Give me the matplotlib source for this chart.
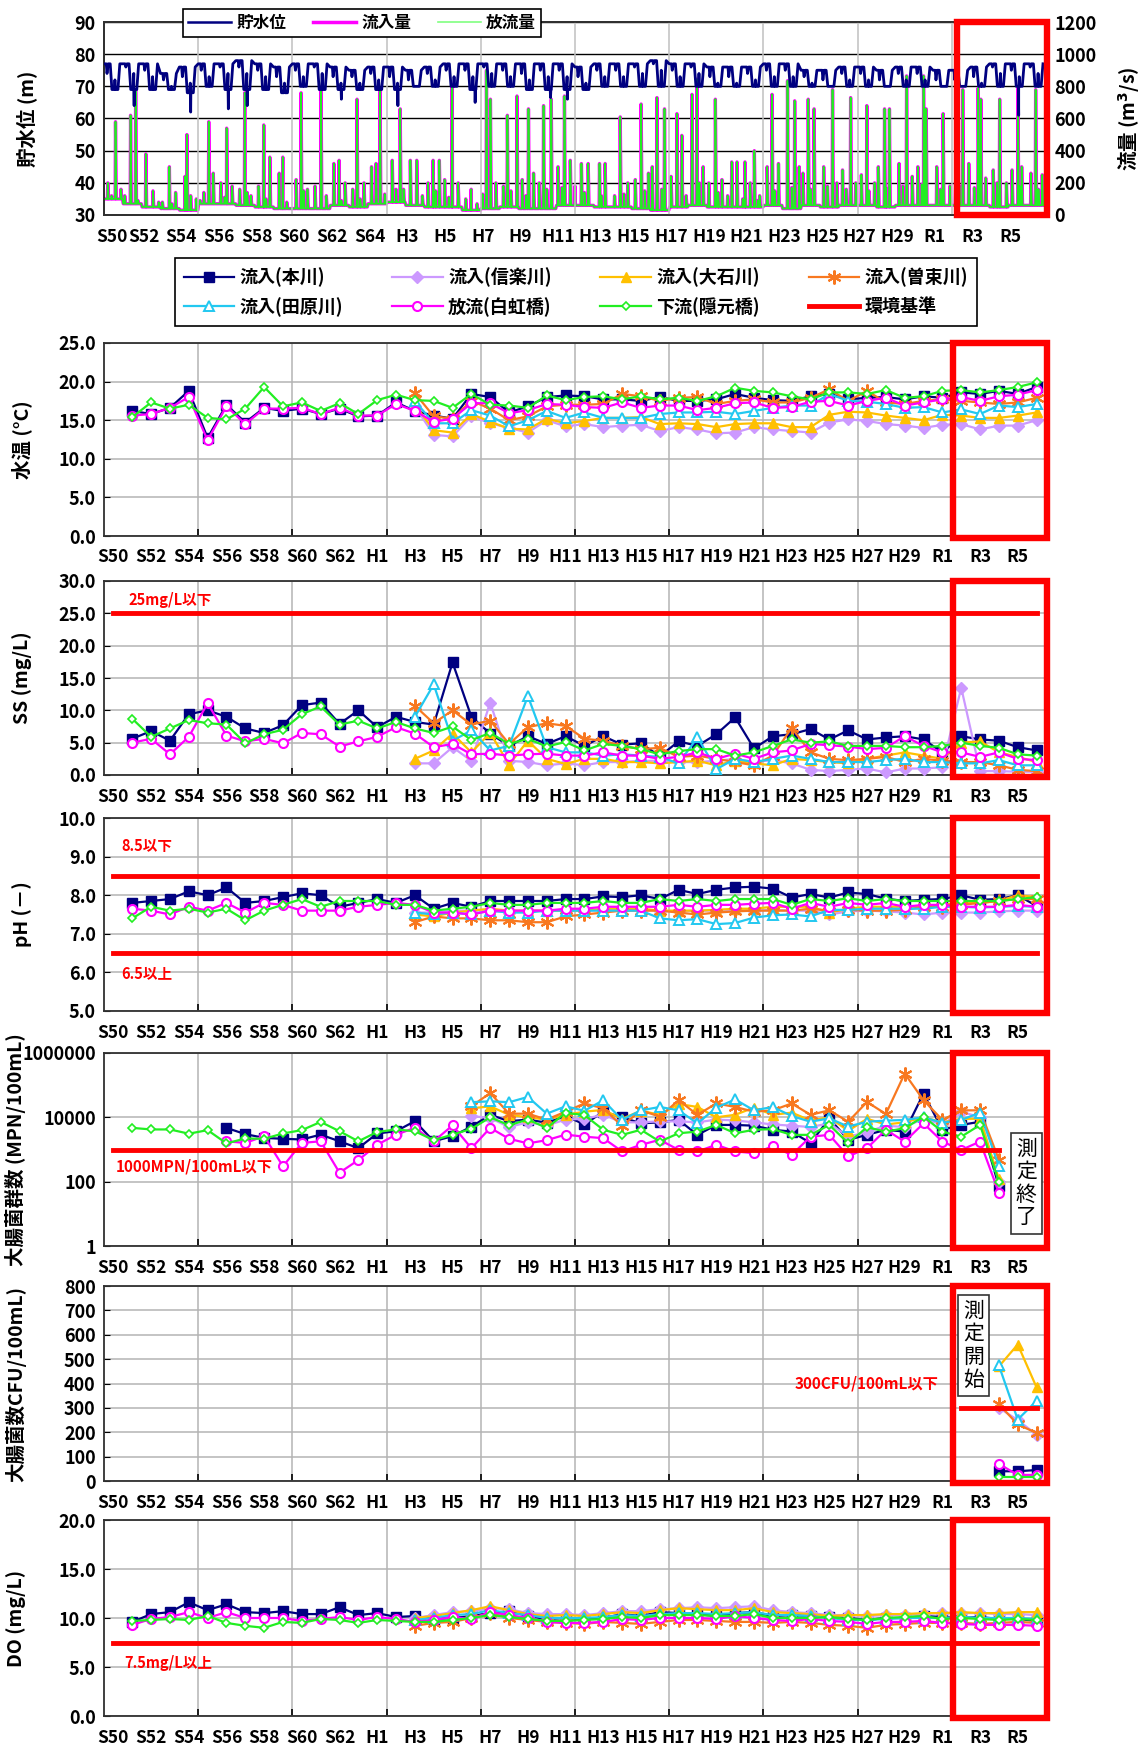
import numpy as np
import matplotlib
matplotlib.use("Agg")
import matplotlib.pyplot as plt
import matplotlib.transforms as mtrans
from matplotlib.patches import Rectangle
from matplotlib.lines import Line2D
from matplotlib.ticker import NullLocator

plt.rcParams['font.family'] = ['Noto Sans CJK JP', 'DejaVu Sans']
plt.rcParams['axes.unicode_minus'] = False
plt.rcParams['font.weight'] = 'bold'
plt.rcParams['axes.labelweight'] = 'bold'

# ---------------- axis categories ----------------
YEARS = list(range(1975, 2025))
TICK_YEARS = list(range(1975, 2024, 2))
TOP_LABELS = ['S50', 'S52', 'S54', 'S56', 'S58', 'S60', 'S62', 'S64', 'H3', 'H5', 'H7', 'H9', 'H11',
              'H13', 'H15', 'H17', 'H19', 'H21', 'H23', 'H25', 'H27', 'H29', 'R1', 'R3', 'R5']
LOW_LABELS = ['S50', 'S52', 'S54', 'S56', 'S58', 'S60', 'S62', 'H1', 'H3', 'H5', 'H7', 'H9', 'H11',
              'H13', 'H15', 'H17', 'H19', 'H21', 'H23', 'H25', 'H27', 'H29', 'R1', 'R3', 'R5']

# ---------------- top panel: reservoir level & flows ----------------
wl_high = [77, 77, 77, 74, 76, 77, 77, 78, 77, 76, 77, 77, 76, 75, 76, 76, 75, 76, 77, 77,
           77, 77, 77, 77, 77, 76, 77, 77, 77, 78, 77, 77, 76, 76, 76, 77, 77, 75, 75, 76,
           76, 75, 76, 76, 75, 75, 76, 77, 77, 77]
wl_low = [69, 69, 69, 69, 68, 70, 69, 69, 69, 68, 70, 69, 69, 69, 69, 69, 70, 70, 70, 69,
          70, 70, 69, 69, 69, 69, 70, 70, 70, 70, 70, 70, 70, 70, 70, 70, 70, 70, 70, 70,
          70, 70, 70, 70, 70, 70, 70, 70, 70, 70]
wl_spring = [74, 76, 75, 72, 73, 75, 76, 76, 75, 73, 75, 76, 73, 73, 74, 73, 72, 74, 75, 75,
             76, 75, 74, 75, 75, 73, 75, 75, 76, 77, 75, 76, 73, 73, 74, 75, 75, 73, 72, 74,
             74, 72, 74, 74, 72, 72, 73, 76, 75, 76]
wl_dip_t = [1976.6, 1979.6, 1981.6, 1982.6, 1987.6, 1990.6, 1994.7, 1998.7, 1999.6, 2023.55]
wl_dip_v = [64, 62, 63, 64, 66, 64, 65, 66.5, 66, 61]

base_flow = [100, 70, 50, 40, 30, 70, 70, 60, 50, 40, 40, 40, 60, 50, 70, 80, 60, 50, 50, 30,
             40, 50, 40, 40, 60, 60, 50, 50, 40, 30, 50, 60, 50, 50, 50, 60, 40, 60, 50, 60,
             60, 50, 60, 60, 60, 60, 60, 50, 60, 60]
peak_t = [1975.61, 1976.41, 1976.68, 1977.22, 1978.47, 1979.40, 1980.56, 1981.51, 1982.47, 1983.48,
          1984.49, 1985.46, 1986.52, 1987.48, 1988.43, 1989.44, 1989.65, 1990.72, 1991.26, 1992.47,
          1993.08, 1993.48, 1994.49, 1995.30, 1995.51, 1996.41, 1996.92, 1997.53, 1998.33, 1998.74,
          1999.44, 1999.75, 2000.34, 2001.30, 2002.40, 2003.51, 2004.35, 2004.75, 2005.41, 2005.67,
          2006.21, 2006.47, 2007.45, 2008.32, 2009.02, 2009.52, 2010.46, 2011.28, 2011.66, 2012.38,
          2012.69, 2013.67, 2014.63, 2015.49, 2016.43, 2016.69, 2017.60, 2018.50, 2018.64, 2019.54,
          2020.58, 2021.40, 2021.54, 2022.54, 2023.51, 2023.71, 2024.45]
peak_in = [580, 620, 780, 380, 300, 500, 580, 540, 760, 560,
           360, 760, 780, 340, 720, 320, 780, 660, 340, 340,
           220, 800, 160, 900, 720, 620, 740, 660, 680, 720,
           740, 340, 320, 320, 610, 690, 730, 660, 630, 495,
           750, 845, 720, 330, 330, 400, 750, 835, 710, 720,
           660, 780, 730, 680, 660, 660, 865, 865, 660, 630,
           780, 790, 720, 720, 790, 300, 780]
sec_t = [1975.2, 1975.9, 1976.1, 1977.6, 1978.1, 1978.8, 1979.3, 1979.9, 1980.3, 1980.8,
         1981.2, 1981.8, 1982.2, 1982.8, 1983.2, 1983.8, 1984.3, 1985.2, 1985.8, 1986.2,
         1987.2, 1987.8, 1988.2, 1988.8, 1989.2, 1990.3, 1990.9, 1991.6, 1992.2, 1992.8,
         1993.8, 1994.2, 1995.8, 1996.2, 1997.2, 1997.8, 1998.1, 1999.1, 2000.0, 2000.7,
         2001.6, 2002.1, 2002.8, 2003.2, 2003.9, 2004.1, 2005.1, 2006.8, 2007.1, 2007.8,
         2008.6, 2009.3, 2009.8, 2010.2, 2010.8, 2011.9, 2012.1, 2013.2, 2013.9, 2014.2,
         2014.9, 2015.2, 2015.9, 2016.1, 2017.2, 2017.9, 2018.2, 2019.2, 2019.9, 2020.2,
         2020.9, 2021.8, 2022.2, 2022.9, 2023.2, 2024.2, 2024.8]
sec_v = [200, 160, 120, 150, 80, 140, 240, 100, 140, 260,
         200, 180, 160, 120, 180, 360, 260, 220, 160, 180,
         320, 200, 160, 200, 300, 340, 160, 340, 200, 340,
         200, 100, 200, 180, 220, 260, 200, 300, 180, 320,
         320, 120, 200, 220, 260, 300, 240, 300, 200, 220,
         330, 200, 120, 300, 320, 300, 260, 300, 200, 280,
         200, 250, 200, 300, 320, 240, 300, 300, 180, 200,
         320, 230, 280, 200, 280, 260, 250]
small_t = [1975.4, 1976.8, 1977.9, 1978.6, 1979.6, 1980.1, 1981.4, 1982.6, 1983.6, 1984.7,
           1985.6, 1986.8, 1987.6, 1988.6, 1989.9, 1990.5, 1991.9, 1992.6, 1993.3, 1994.8,
           1995.1, 1996.6, 1997.4, 1998.5, 1999.3, 2000.5, 2001.4, 2002.6, 2003.7, 2004.6,
           2005.9, 2006.6, 2007.6, 2008.1, 2008.9, 2009.7, 2010.6, 2011.5, 2012.5, 2013.4,
           2014.4, 2015.6, 2016.5, 2017.4, 2018.4, 2019.4, 2020.4, 2021.2, 2022.4, 2023.6, 2024.6]
small_v = [120, 90, 80, 70, 120, 90, 110, 140, 100, 80,
           150, 120, 90, 100, 130, 160, 120, 150, 110, 70,
           130, 150, 120, 160, 170, 140, 120, 130, 150, 160,
           120, 200, 140, 120, 100, 90, 150, 170, 160, 180,
           160, 150, 170, 180, 190, 160, 180, 170, 200, 180, 160]

# ---------------- annual water quality ----------------
# 水温 (°C)
wt_hon = [16.2, 15.8, 16.6, 18.8, 12.7, 17.0, 14.7, 16.6, 16.2, 16.5, 15.8, 16.5, 15.5, 15.6, 17.3, 16.2,
          15.6, 15.2, 18.4, 18.0, 16.0, 16.8, 18.0, 18.2, 18.1, 17.7, 17.7, 17.5, 18.0, 17.5, 17.5, 17.7,
          18.4, 17.9, 17.6, 17.5, 18.1, 18.4, 17.7, 17.9, 18.0, 17.7, 18.1, 17.9, 18.6, 18.4, 18.8, 18.4, 19.3]
wt_hak = [15.6, 15.8, 16.6, 18.0, 12.4, 16.8, 14.5, 16.5, 16.5, 16.6, 15.8, 16.6, 15.6, 15.6, 17.1, 16.2,
          14.8, 15.2, 17.2, 17.2, 15.9, 16.3, 17.1, 17.0, 16.7, 16.6, 17.3, 16.6, 16.9, 16.9, 16.3, 16.6,
          17.2, 17.3, 16.6, 16.7, 17.4, 17.5, 16.9, 17.5, 17.9, 16.9, 17.3, 17.7, 18.0, 17.5, 18.1, 18.3, 18.9]
wt_ing = [15.4, 17.3, 16.5, 17.0, 15.3, 15.1, 16.5, 19.3, 16.8, 17.3, 16.2, 17.2, 15.8, 17.6, 18.3, 17.6,
          17.5, 16.6, 18.4, 17.0, 16.9, 16.6, 18.2, 17.6, 18.0, 18.1, 17.7, 18.1, 17.7, 17.9, 17.5, 18.1,
          19.2, 18.8, 18.6, 18.1, 17.7, 18.6, 18.6, 18.4, 18.9, 17.9, 18.1, 18.8, 18.9, 18.6, 18.9, 19.3, 19.9]
wt_sot = [18.5, 15.5, 15.2, 17.5, 16.5, 15.0, 15.5, 16.8, 17.0, 17.0, 17.1, 18.4, 18.1, 17.5, 17.9, 18.0,
          17.1, 17.5, 17.7, 17.3, 17.3, 17.9, 19.0, 17.5, 18.8, 17.3, 17.1, 17.5, 17.7, 17.5, 17.3, 17.1,
          17.3, 17.9]
wt_tah = [17.5, 14.6, 14.6, 16.3, 15.6, 14.2, 15.0, 16.2, 15.3, 16.0, 15.3, 15.3, 15.3, 15.8, 16.0, 16.0,
          16.1, 15.8, 16.2, 16.6, 16.9, 16.9, 18.4, 17.5, 17.4, 17.1, 16.6, 16.7, 16.0, 16.4, 15.8, 16.9,
          16.7, 17.1]
wt_ois = [17.0, 13.7, 13.4, 15.8, 14.8, 13.9, 13.8, 15.2, 14.6, 14.9, 15.3, 15.3, 15.4, 14.5, 14.6, 14.5,
          14.1, 14.5, 14.6, 14.6, 14.1, 14.1, 15.7, 16.1, 16.0, 15.6, 15.3, 15.0, 15.7, 15.6, 15.3, 15.3,
          15.6, 16.0]
wt_shi = [16.8, 13.1, 12.9, 15.5, 14.6, 14.0, 13.4, 15.0, 14.2, 14.5, 14.1, 14.3, 14.4, 13.6, 14.1, 13.8,
          13.3, 13.4, 14.1, 13.8, 13.6, 13.4, 14.7, 15.1, 14.9, 14.5, 14.3, 14.0, 14.4, 14.5, 13.8, 14.3,
          14.3, 15.0]

# SS (mg/L)
ss_hon = [5.6, 6.8, 5.3, 9.4, 10.0, 9.0, 7.2, 6.5, 7.7, 10.8, 11.2, 7.9, 10.0, 7.4, 9.0, 8.2,
          7.8, 17.4, 9.0, 6.4, 4.5, 6.0, 4.8, 6.0, 4.5, 6.0, 4.7, 4.9, 2.9, 5.2, 4.5, 6.3,
          8.9, 4.1, 6.0, 6.3, 7.1, 5.5, 6.9, 5.5, 5.8, 6.0, 5.5, 3.5, 6.0, 5.5, 5.3, 4.3, 3.8]
ss_hak = [5.0, 5.6, 3.2, 5.9, 11.1, 6.1, 5.2, 5.6, 4.9, 6.5, 6.3, 4.4, 5.2, 5.9, 7.4, 6.4,
          4.3, 4.8, 3.2, 3.3, 3.0, 3.2, 3.3, 3.0, 3.0, 3.5, 3.0, 3.0, 2.5, 2.8, 3.5, 2.5,
          3.3, 2.5, 3.5, 3.8, 4.8, 4.6, 4.4, 4.0, 4.2, 6.0, 4.5, 3.5, 3.5, 2.8, 3.5, 2.5, 2.3]
ss_ing = [8.7, 5.9, 7.2, 8.5, 8.0, 7.8, 4.9, 6.3, 7.0, 9.4, 10.6, 7.8, 8.4, 7.2, 8.2, 7.2,
          6.5, 7.5, 5.4, 6.5, 4.8, 5.6, 4.4, 5.1, 3.8, 4.8, 4.5, 4.0, 3.2, 3.7, 4.0, 4.0,
          3.0, 3.5, 4.5, 5.5, 5.0, 5.2, 4.5, 4.5, 4.5, 4.3, 4.3, 4.5, 5.0, 4.5, 4.2, 3.2, 3.0]
ss_sot = [10.7, 8.0, 10.0, 7.8, 8.4, 4.8, 7.4, 8.0, 7.6, 5.6, 5.3, 4.5, 4.0, 4.2, 2.8, 3.0,
          2.5, 2.0, 1.5, 3.0, 7.3, 3.5, 2.5, 2.3, 2.5, 2.8, 2.0, 2.5, 2.2, 2.0, 2.0, 1.5, 0.8, 0.6]
ss_tah = [9.0, 14.0, 5.3, 6.9, 3.8, 4.5, 12.2, 4.3, 3.5, 3.5, 3.0, 3.2, 3.0, 2.8, 1.8, 5.8,
          0.9, 2.5, 2.0, 2.5, 3.0, 2.5, 2.0, 2.0, 2.0, 2.3, 2.5, 2.0, 2.0, 1.8, 1.8, 2.3, 1.5, 1.5]
ss_ois = [2.5, 3.8, 6.4, 3.5, 6.5, 1.6, 5.3, 2.5, 1.7, 2.5, 2.5, 2.0, 2.0, 1.8, 2.0, 2.2,
          1.5, 2.2, 1.8, 1.5, 2.5, 2.3, 2.0, 1.8, 2.5, 3.0, 3.5, 3.0, 2.5, 5.0, 5.2, 3.5, 2.8, 2.0]
ss_shi = [1.8, 1.8, 4.3, 2.2, 11.2, 2.2, 2.0, 1.5, 1.8, 1.5, 2.0, 2.0, 2.2, 2.2, 2.0, 2.0,
          2.2, 2.5, 2.0, 2.3, 1.8, 0.8, 0.6, 0.8, 1.0, 0.4, 1.0, 1.0, 1.2, 13.5, 0.6, 0.6, 0.5, 0.5]

# pH
ph_hon = [7.8, 7.85, 7.9, 8.1, 8.0, 8.2, 7.8, 7.85, 7.95, 8.05, 8.0, 7.7, 7.8, 7.9, 7.8, 8.0,
          7.65, 7.8, 7.7, 7.85, 7.85, 7.85, 7.85, 7.9, 7.9, 7.97, 7.95, 8.0, 7.9, 8.14, 8.03, 8.14,
          8.2, 8.22, 8.17, 7.94, 8.03, 7.94, 8.07, 8.03, 7.91, 7.85, 7.88, 7.9, 8.0, 7.88, 7.9, 8.0, 7.72]
ph_hak = [7.65, 7.6, 7.5, 7.7, 7.6, 7.8, 7.55, 7.8, 7.75, 7.6, 7.6, 7.6, 7.7, 7.75, 7.8, 7.75,
          7.55, 7.55, 7.5, 7.6, 7.6, 7.6, 7.6, 7.65, 7.65, 7.7, 7.7, 7.7, 7.7, 7.75, 7.7, 7.75,
          7.75, 7.78, 7.8, 7.65, 7.8, 7.7, 7.8, 7.75, 7.8, 7.7, 7.75, 7.75, 7.7, 7.7, 7.7, 7.75, 7.7]
ph_ing = [7.4, 7.7, 7.6, 7.65, 7.55, 7.65, 7.35, 7.6, 7.75, 7.9, 7.7, 7.85, 7.85, 7.85, 7.75, 7.75,
          7.6, 7.65, 7.7, 7.8, 7.75, 7.75, 7.8, 7.8, 7.8, 7.85, 7.8, 7.8, 7.9, 7.85, 7.9, 7.85,
          7.9, 7.9, 7.9, 7.75, 7.9, 7.85, 7.92, 7.85, 7.9, 7.85, 7.85, 7.85, 7.85, 7.85, 7.85, 7.9, 7.95]
ph_sot = [7.3, 7.45, 7.4, 7.4, 7.35, 7.35, 7.3, 7.3, 7.45, 7.5, 7.55, 7.6, 7.6, 7.6, 7.55, 7.5,
          7.55, 7.58, 7.6, 7.6, 7.6, 7.65, 7.6, 7.62, 7.6, 7.6, 7.62, 7.7, 7.7, 7.75, 7.8, 7.85, 7.9, 7.9]
ph_tah = [7.55, 7.5, 7.55, 7.5, 7.6, 7.55, 7.55, 7.6, 7.6, 7.6, 7.6, 7.6, 7.6, 7.4, 7.35, 7.38,
          7.25, 7.28, 7.42, 7.48, 7.5, 7.45, 7.62, 7.62, 7.65, 7.65, 7.65, 7.65, 7.7, 7.7, 7.68, 7.7, 7.72, 7.7]
ph_ois = [7.5, 7.45, 7.55, 7.6, 7.65, 7.6, 7.6, 7.6, 7.6, 7.6, 7.65, 7.65, 7.65, 7.6, 7.6, 7.6,
          7.62, 7.65, 7.65, 7.7, 7.7, 7.7, 7.55, 7.65, 7.7, 7.7, 7.7, 7.72, 7.75, 7.8, 7.8, 7.85, 8.0, 7.95]
ph_shi = [7.55, 7.55, 7.6, 7.6, 7.6, 7.55, 7.6, 7.6, 7.6, 7.6, 7.62, 7.62, 7.62, 7.6, 7.58, 7.6,
          7.6, 7.62, 7.6, 7.62, 7.6, 7.6, 7.5, 7.58, 7.6, 7.58, 7.55, 7.5, 7.55, 7.55, 7.55, 7.58, 7.6, 7.6]

# 大腸菌群数 (MPN/100mL)
mpn_ing = [4700, 4200, 4200, 3100, 4000, 1550, 2200, 2150, 3150, 4000, 7200, 3700, 1800, 3500, 4200, 3700,
           1950, 2900, 4400, 10000, 5700, 8500, 4700, 13700, 11800, 4100, 2850, 4100, 1760, 3200, 3600, 5800,
           3200, 4100, 4300, 2850, 2850, 5800, 1580, 4900, 3600, 4600, 10500, 3600, 2500, 5800, 100]
mpn_hon = [4700, 3000, 2300, 2150, 2050, 2900, 1800, 1100, 3150, 3700, 7600, 1800, 2600, 5100, 12000, 7600,
           8500, 6800, 11000, 6000, 15000, 10000, 6500, 7000, 8300, 2850, 5800, 5800, 5500, 4100, 3600, 1580,
           9300, 2000, 2850, 4100, 3600, 55000, 4100, 5800, 7300, 72]
mpn_hak = [1800, 1600, 2600, 300, 1600, 1800, 190, 470, 1400, 2900, 4700, 1800, 5600, 1100, 4700, 2150,
           1550, 1950, 2900, 2500, 2250, 870, 1400, 2000, 970, 870, 1400, 870, 770, 1250, 680, 2500,
           2850, 610, 1100, 4100, 1760, 6500, 1760, 970, 1760, 45]
mpn_tah = [29500, 31500, 29500, 43000, 13000, 22000, 16000, 34000, 8300, 16500, 21000, 16500, 6500, 20000,
           36000, 16500, 21000, 11000, 7300, 9300, 5150, 7300, 7900, 8300, 10000, 6800, 8300, 14000, 300]
mpn_sot = [22000, 57000, 13000, 13000, 8500, 15000, 27000, 19000, 5400, 16500, 10500, 34000, 12000, 27000,
           21000, 15000, 16500, 27000, 12000, 16500, 7300, 30000, 12700, 230000, 34000, 8300, 16500, 16500, 480]
mpn_ois = [19000, 22000, 12000, 10000, 8500, 12000, 15000, 17000, 9000, 16000, 12000, 26000, 21000, 10000,
           12000, 20000, 12000, 14000, 8000, 10000, 3800, 9000, 6000, 7000, 10000, 7000, 9000, 9000, 120]
mpn_shi = [11000, 9500, 5000, 7000, 5600, 8500, 9000, 12000, 7000, 7000, 7500, 7500, 7000, 8500,
           8000, 7000, 6000, 5500, 5000, 6500, 2500, 3500, 5500, 5000, 9000, 6000, 15000, 10000, 100]

# 大腸菌数 (CFU/100mL), R4-R6
cfu_hon = [40, 40, 45]
cfu_shi = [300, 250, 190]
cfu_ois = [470, 560, 384]
cfu_sot = [315, 232, 197]
cfu_tah = [474, 252, 329]
cfu_hak = [70, 25, 25]
cfu_ing = [15, 15, 15]

# DO (mg/L)
do_hon = [9.6, 10.4, 10.6, 11.6, 10.8, 11.4, 10.6, 10.5, 10.7, 10.4, 10.4, 11.1, 10.3, 10.5, 10.1, 10.2,
          9.9, 10.0, 10.2, 10.5, 10.7, 10.2, 9.9, 10.0, 9.9, 10.0, 10.4, 10.2, 10.6, 10.5, 10.4, 10.2,
          10.5, 10.6, 10.2, 10.3, 10.2, 10.1, 10.0, 9.8, 10.0, 10.0, 10.2, 10.1, 10.0, 10.1, 9.9, 9.9, 9.7]
do_hak = [9.3, 9.9, 10.1, 10.6, 10.0, 10.6, 10.0, 10.0, 10.0, 9.7, 9.9, 10.1, 9.8, 10.1, 9.9, 9.6,
          9.8, 10.1, 9.9, 10.6, 10.3, 10.0, 9.6, 9.5, 9.5, 9.6, 9.9, 9.8, 10.0, 10.0, 10.0, 9.9,
          10.2, 10.0, 9.8, 9.7, 9.9, 9.7, 9.6, 9.4, 9.6, 9.6, 9.7, 9.5, 9.4, 9.3, 9.3, 9.3, 9.2]
do_ing = [9.7, 9.8, 9.9, 9.8, 10.2, 9.5, 9.2, 9.0, 9.6, 9.5, 9.9, 9.8, 9.5, 9.8, 9.7, 9.6,
          9.6, 9.8, 10.0, 10.3, 10.1, 9.9, 9.7, 9.7, 9.8, 9.9, 10.1, 10.0, 10.3, 10.3, 10.3, 10.2,
          10.2, 10.4, 10.0, 10.0, 10.0, 10.1, 9.9, 9.8, 10.0, 10.1, 10.2, 9.9, 10.0, 9.9, 9.8, 9.9, 9.8]
do_sot = [9.2, 9.5, 9.6, 10.0, 10.5, 10.0, 9.8, 9.6, 9.5, 9.4, 9.6, 9.5, 9.4, 9.6, 9.8, 9.8,
          9.7, 9.6, 9.6, 9.5, 9.6, 9.5, 9.3, 9.2, 9.0, 9.3, 9.4, 9.5, 9.5, 9.5, 9.4, 9.5, 9.6, 9.5]
do_tah = [9.8, 10.0, 10.3, 10.4, 10.8, 10.5, 10.3, 10.0, 10.0, 10.0, 10.1, 10.3, 10.2, 10.4, 10.5, 10.5,
          10.4, 10.5, 10.6, 10.3, 10.3, 10.2, 10.0, 9.8, 9.8, 9.9, 10.0, 10.0, 10.0, 10.1, 10.0, 10.0, 10.0, 9.9]
do_ois = [10.0, 10.2, 10.5, 10.8, 11.2, 10.8, 10.4, 10.2, 10.3, 10.2, 10.4, 10.6, 10.5, 10.8, 11.0, 10.9,
          10.8, 10.8, 11.0, 10.6, 10.5, 10.4, 10.2, 10.3, 10.3, 10.4, 10.4, 10.5, 10.5, 10.6, 10.5, 10.5, 10.6, 10.6]
do_shi = [10.0, 10.3, 10.6, 10.7, 11.0, 10.9, 10.5, 10.4, 10.4, 10.3, 10.5, 10.7, 10.7, 10.9, 11.0, 11.1,
          11.0, 11.1, 11.2, 10.8, 10.6, 10.5, 10.3, 10.3, 10.2, 10.3, 10.3, 10.4, 10.5, 10.5, 10.5, 10.4, 10.4, 10.3]

# ---------------- styles ----------------
NAVY, LAV, GOLD, ORG, CYAN, MAG, GRN, RED = ('#000080', '#CC99FF', '#FFC000', '#F87820',
                                            '#22C8F0', '#FF00FF', '#22EE22', '#FF0000')
STY = {
    'hon': dict(color=NAVY, marker='s', ms=7.5, mfc=NAVY, mec=NAVY, lw=1.6),
    'shi': dict(color=LAV, marker='D', ms=6.5, mfc=LAV, mec=LAV, lw=1.6),
    'ois': dict(color=GOLD, marker='^', ms=7.5, mfc=GOLD, mec=GOLD, lw=1.6),
    'sot': dict(color=ORG, marker=(6, 2, 0), ms=10, mec=ORG, mew=1.5, lw=1.6),
    'tah': dict(color=CYAN, marker='^', ms=6.5, mfc='white', mec=CYAN, mew=1.4, lw=1.6),
    'hak': dict(color=MAG, marker='o', ms=6.5, mfc='white', mec=MAG, mew=1.5, lw=1.6),
    'ing': dict(color=GRN, marker='D', ms=4.2, mfc='white', mec=GRN, mew=1.2, lw=1.6),
}
NAMES = {'hon': '流入(本川)', 'shi': '流入(信楽川)', 'ois': '流入(大石川)', 'sot': '流入(曽束川)',
         'tah': '流入(田原川)', 'hak': '放流(白虹橋)', 'ing': '下流(隠元橋)'}

W_PX, H_PX = 1143, 1751
fig = plt.figure(figsize=(W_PX / 100, H_PX / 100), dpi=100)
L_PX, R_PX = 104, 1046


def rect(top_px, bot_px):
    return [L_PX / W_PX, 1 - bot_px / H_PX, (R_PX - L_PX) / W_PX, (bot_px - top_px) / H_PX]


def cat_x(start, n):
    return np.arange(n) + (start - 1975) + 0.5


def red_box(ax, x0, x1, y0=-0.012, y1=1.0):
    tr = mtrans.blended_transform_factory(ax.transData, ax.transAxes)
    ax.add_patch(Rectangle((x0, y0), x1 - x0, y1 - y0, transform=tr, fill=False,
                           edgecolor=RED, lw=4.6, clip_on=False, zorder=20))


TICK_FS = 12.5
LABEL_FS = 14


def setup_lower(ax, ylim, yticks, ylabels, ylabel, log=False, lx=-0.076):
    ax.set_xlim(0, 50)
    if log:
        ax.set_yscale('log')
    ax.set_ylim(*ylim)
    ax.set_yticks(yticks)
    ax.set_yticklabels(ylabels)
    if log:
        ax.yaxis.set_minor_locator(NullLocator())
    ax.set_xticks(np.arange(5, 50, 5))
    ax.set_xticklabels([])
    ax.set_xticks([y - 1975 + 0.5 for y in TICK_YEARS], minor=True)
    ax.set_xticklabels(LOW_LABELS, minor=True)
    ax.tick_params(axis='x', which='minor', length=0, pad=9, labelsize=TICK_FS)
    ax.tick_params(axis='x', which='major', direction='in', length=5, width=1.2, colors='black')
    ax.tick_params(axis='y', which='major', direction='in', length=4, labelsize=TICK_FS + 0.5, pad=6)
    ax.grid(True, which='major', color='#b4b4b4', lw=1.1)
    ax.set_axisbelow(True)
    for s in ax.spines.values():
        s.set_color('#303030')
        s.set_linewidth(1.3)
    ax.set_ylabel(ylabel, fontsize=LABEL_FS)
    ax.yaxis.set_label_coords(lx, 0.5)


def plot_all(ax, pairs):
    for key, start, vals in pairs:
        ax.plot(cat_x(start, len(vals)), vals, zorder=3, clip_on=False, **STY[key])


# ================= panel 1 =================
ax1 = fig.add_axes(rect(22, 215))
ax1r = ax1.twinx()

wl_pts = []
for i, y in enumerate(YEARS):
    hi, lo, sp = wl_high[i], wl_low[i], wl_spring[i]
    wl_pts += [(y + 0.0, hi), (y + 0.12, hi), (y + 0.16, sp), (y + 0.22, hi), (y + 0.33, hi),
               (y + 0.42, lo), (y + 0.55, lo), (y + 0.58, sp - 2), (y + 0.61, lo), (y + 0.74, lo),
               (y + 0.84, hi)]
for t, v in zip(wl_dip_t, wl_dip_v):
    lo = wl_low[int(t) - 1975]
    wl_pts += [(t - 0.015, lo), (t, v), (t + 0.02, lo)]
wl_pts.sort()
wl_t = [p[0] for p in wl_pts]
wl_v = [p[1] for p in wl_pts]

fl_pts = []
for i, y in enumerate(YEARS):
    for f in (0.02, 0.5, 0.98):
        fl_pts.append((y + f, base_flow[i]))
spikes = list(zip(peak_t, peak_in)) + list(zip(sec_t, sec_v)) + list(zip(small_t, small_v))
for t, v in spikes:
    b = base_flow[min(int(t) - 1975, 49)]
    fl_pts += [(t - 0.02, b), (t, v), (t + 0.045, b)]
fl_pts.sort()
fl_t = [p[0] for p in fl_pts]
fl_v = [p[1] for p in fl_pts]

ax1r.plot(fl_t, fl_v, color=MAG, lw=2.4, zorder=2)
ax1r.plot(fl_t, fl_v, color='#22EE22', lw=1.3, zorder=3)
ax1.plot(wl_t, wl_v, color=NAVY, lw=2.0, zorder=5)
ax1.set_zorder(ax1r.get_zorder() + 1)
ax1.patch.set_visible(False)

ax1.set_xlim(1975, 2025)
ax1.set_ylim(30, 90)
ax1r.set_ylim(0, 1200)
ax1.set_yticks(range(30, 91, 10))
ax1r.set_yticks(range(0, 1201, 200))
ax1.set_xticks(range(1980, 2025, 5))
ax1.set_xticklabels([])
top_pos = [y + 0.1 for y in TICK_YEARS]
top_pos[0] = 1975.4
ax1.set_xticks(top_pos, minor=True)
ax1.set_xticklabels(TOP_LABELS, minor=True)
ax1.tick_params(axis='x', which='minor', length=0, pad=9, labelsize=TICK_FS)
ax1.tick_params(axis='x', which='major', length=0)
ax1.tick_params(axis='y', length=0, labelsize=TICK_FS + 0.5, pad=6)
ax1r.tick_params(axis='y', length=0, labelsize=TICK_FS + 0.5, pad=6)
ax1.xaxis.grid(True, color='#c0c0c0', lw=1.1)
ax1r.yaxis.grid(True, color='black', lw=1.0)
ax1r.set_axisbelow(True)
ax1.set_axisbelow(True)
for a in (ax1, ax1r):
    for s in a.spines.values():
        s.set_color('#303030')
        s.set_linewidth(1.3)
ax1.set_ylabel('貯水位 (m)', fontsize=LABEL_FS)
ax1.yaxis.set_label_coords(-0.071, 0.5)
ax1r.set_ylabel('流量 (m$^3$/s)', fontsize=LABEL_FS)
ax1r.yaxis.set_label_coords(1.074, 0.5)
red_box(ax1, 2020.25, 2025.05, 0.0, 1.0)

leg1 = fig.legend(handles=[Line2D([], [], color=NAVY, lw=1.8),
                           Line2D([], [], color=MAG, lw=2.5),
                           Line2D([], [], color='#80FF80', lw=1.2)],
                  labels=['貯水位', '流入量', '放流量'], loc='center',
                  bbox_to_anchor=(362 / W_PX, 1 - 23 / H_PX), ncol=3, fontsize=12,
                  frameon=True, fancybox=False, edgecolor='black', framealpha=1,
                  handlelength=2.6, handletextpad=0.3, columnspacing=1.6,
                  borderpad=0.3)
leg1.get_frame().set_linewidth(1.2)

# ================= main legend =================
order = ['hon', 'tah', 'shi', 'hak', 'ois', 'ing', 'sot']
handles = [Line2D([], [], **STY[k]) for k in order] + [Line2D([], [], color=RED, lw=3.5)]
labels = [NAMES[k] for k in order] + ['環境基準']
leg2 = fig.legend(handles=handles, labels=labels, loc='center',
                  bbox_to_anchor=(576 / W_PX, 1 - 292 / H_PX), ncol=4, fontsize=13,
                  frameon=True, fancybox=False, edgecolor='black', framealpha=1,
                  handlelength=2.8, handletextpad=0.3, columnspacing=2.7,
                  borderpad=0.5, labelspacing=0.55)
leg2.get_frame().set_linewidth(1.2)

# ================= panel 2: 水温 =================
ax2 = fig.add_axes(rect(343, 536))
setup_lower(ax2, (0, 25), np.arange(0, 25.1, 5), [f'{v:.1f}' for v in np.arange(0, 25.1, 5)], '水温 (°C)')
plot_all(ax2, [('hon', 1976, wt_hon), ('shi', 1991, wt_shi), ('ois', 1991, wt_ois), ('sot', 1991, wt_sot),
               ('tah', 1991, wt_tah), ('hak', 1976, wt_hak), ('ing', 1976, wt_ing)])
red_box(ax2, 45.05, 50.05)

# ================= panel 3: SS =================
ax3 = fig.add_axes(rect(581, 775))
setup_lower(ax3, (0, 30), np.arange(0, 30.1, 5), [f'{v:.1f}' for v in np.arange(0, 30.1, 5)], 'SS (mg/L)')
plot_all(ax3, [('hon', 1976, ss_hon), ('shi', 1991, ss_shi), ('ois', 1991, ss_ois), ('sot', 1991, ss_sot),
               ('tah', 1991, ss_tah), ('hak', 1976, ss_hak), ('ing', 1976, ss_ing)])
ax3.plot(cat_x(1975, 50), [25] * 50, color=RED, lw=3.5, zorder=4)
ax3.text(1.3, 27.0, '25mg/L以下', color=RED, fontsize=10.5, va='center', ha='left')
red_box(ax3, 45.05, 50.05)

# ================= panel 4: pH =================
ax4 = fig.add_axes(rect(818, 1011))
setup_lower(ax4, (5, 10), np.arange(5, 10.1, 1), [f'{v:.1f}' for v in np.arange(5, 10.1, 1)], 'pH (－)')
plot_all(ax4, [('hon', 1976, ph_hon), ('shi', 1991, ph_shi), ('ois', 1991, ph_ois), ('sot', 1991, ph_sot),
               ('tah', 1991, ph_tah), ('hak', 1976, ph_hak), ('ing', 1976, ph_ing)])
ax4.plot(cat_x(1975, 50), [8.5] * 50, color=RED, lw=3.5, zorder=4)
ax4.plot(cat_x(1975, 50), [6.5] * 50, color=RED, lw=3.5, zorder=4)
ax4.text(0.9, 9.28, '8.5以下', color=RED, fontsize=10.5, va='center', ha='left')
ax4.text(0.9, 5.98, '6.5以上', color=RED, fontsize=10.5, va='center', ha='left')
red_box(ax4, 45.05, 50.05)

# ================= panel 5: 大腸菌群数 =================
ax5 = fig.add_axes(rect(1053, 1246))
setup_lower(ax5, (1, 1e6), [1, 100, 1e4, 1e6], ['1', '100', '10000', '1000000'],
            '大腸菌群数 (MPN/100mL)', log=True, lx=-0.083)
plot_all(ax5, [('hon', 1981, mpn_hon), ('shi', 1994, mpn_shi), ('ois', 1994, mpn_ois), ('sot', 1994, mpn_sot),
               ('tah', 1994, mpn_tah), ('hak', 1981, mpn_hak), ('ing', 1976, mpn_ing)])
ax5.plot(cat_x(1975, 48), [1000] * 48, color=RED, lw=3.5, zorder=4)
ax5.text(0.6, 290, '1000MPN/100mL以下', color=RED, fontsize=11, va='center', ha='left')
ax5.text(48.95, 90, '測\n定\n終\n了', fontsize=15, ha='center', va='center', linespacing=1.05, zorder=25,
         fontweight='normal',
         bbox=dict(boxstyle='square,pad=0.25', fc='white', ec='#333333', lw=1.2))
red_box(ax5, 45.05, 50.05)

# ================= panel 6: 大腸菌数 =================
ax6 = fig.add_axes(rect(1286, 1481))
setup_lower(ax6, (0, 800), np.arange(0, 801, 100), [str(v) for v in range(0, 801, 100)],
            '大腸菌数CFU/100mL)', lx=-0.083)
plot_all(ax6, [('hon', 2022, cfu_hon), ('shi', 2022, cfu_shi), ('ois', 2022, cfu_ois), ('sot', 2022, cfu_sot),
               ('tah', 2022, cfu_tah), ('hak', 2022, cfu_hak), ('ing', 2022, cfu_ing)])
ax6.plot(cat_x(2020, 5), [300] * 5, color=RED, lw=3.5, zorder=4)
ax6.text(44.3, 400, '300CFU/100mL以下', color=RED, fontsize=11, va='center', ha='right')
ax6.text(46.15, 557, '測\n定\n開\n始', fontsize=15, ha='center', va='center', linespacing=1.05, zorder=25,
         fontweight='normal',
         bbox=dict(boxstyle='square,pad=0.25', fc='white', ec='#333333', lw=1.2))
red_box(ax6, 45.05, 50.05)

# ================= panel 7: DO =================
ax7 = fig.add_axes(rect(1520, 1716))
setup_lower(ax7, (0, 20), np.arange(0, 20.1, 5), [f'{v:.1f}' for v in np.arange(0, 20.1, 5)], 'DO (mg/L)',
            lx=-0.083)
plot_all(ax7, [('hon', 1976, do_hon), ('shi', 1991, do_shi), ('ois', 1991, do_ois), ('sot', 1991, do_sot),
               ('tah', 1991, do_tah), ('hak', 1976, do_hak), ('ing', 1976, do_ing)])
ax7.plot(cat_x(1975, 50), [7.5] * 50, color=RED, lw=3.5, zorder=4)
ax7.text(1.1, 5.4, '7.5mg/L以上', color=RED, fontsize=10.5, va='center', ha='left')
red_box(ax7, 45.05, 50.05)

fig.savefig('out.png', dpi=100)
